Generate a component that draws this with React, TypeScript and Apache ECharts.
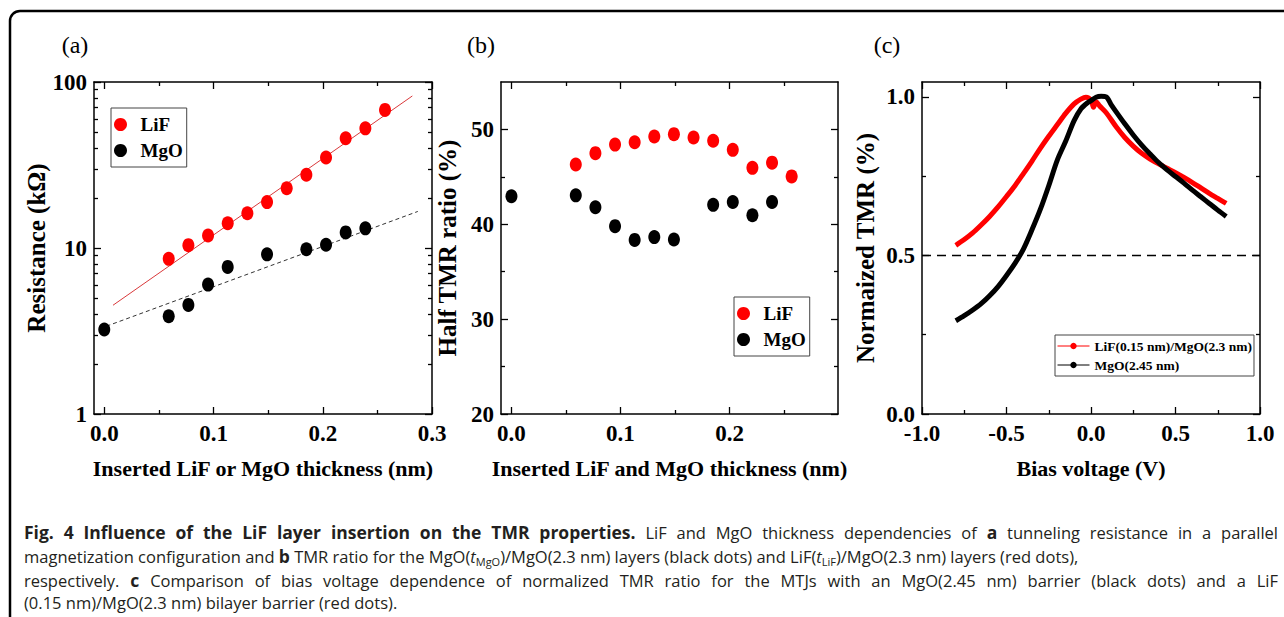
import React, { useEffect, useRef } from 'react';
import * as echarts from 'echarts';

// ---------------- data: panel (a) resistance vs thickness ----------------
const aLiFThickness = [0.059, 0.077, 0.095, 0.113, 0.131, 0.149, 0.167, 0.185, 0.203, 0.221, 0.239, 0.257];
const aLiFResistance = [8.6, 10.4, 11.9, 14.1, 16.2, 18.9, 22.9, 27.6, 35.1, 45.8, 52.6, 67.9];
const aMgOThickness = [0, 0.059, 0.077, 0.095, 0.113, 0.149, 0.185, 0.203, 0.221, 0.239];
const aMgOResistance = [3.23, 3.88, 4.54, 6.02, 7.69, 9.16, 9.82, 10.47, 12.42, 13.13];
const aLiFFitX = [0.008, 0.282];
const aLiFFitY = [4.52, 82.4];
const aMgOFitX = [0.002, 0.287];
const aMgOFitY = [3.38, 16.6];

// ---------------- data: panel (b) half TMR ratio ----------------
const bLiFThickness = [0.059, 0.077, 0.095, 0.113, 0.131, 0.149, 0.167, 0.185, 0.203, 0.221, 0.239, 0.257];
const bLiFTMR = [46.3, 47.5, 48.4, 48.65, 49.25, 49.5, 49.15, 48.8, 47.85, 45.95, 46.5, 45.05];
const bMgOThickness = [0, 0.059, 0.077, 0.095, 0.113, 0.131, 0.149, 0.185, 0.203, 0.221, 0.239];
const bMgOTMR = [42.95, 43.05, 41.8, 39.8, 38.35, 38.65, 38.4, 42.05, 42.35, 40.95, 42.35];

// ---------------- data: panel (c) normalized TMR vs bias ----------------
const cLiFBias = [-0.8, -0.75, -0.7, -0.65, -0.6, -0.55, -0.5, -0.45, -0.4, -0.35, -0.3, -0.25, -0.2, -0.15, -0.1, -0.06, -0.03, 0.0, 0.015, 0.03, 0.05, 0.09, 0.15, 0.2, 0.25, 0.3, 0.35, 0.4, 0.45, 0.5, 0.55, 0.6, 0.65, 0.7, 0.75, 0.8];
const cLiFNorm = [0.532, 0.55, 0.571, 0.596, 0.623, 0.653, 0.686, 0.72, 0.758, 0.797, 0.838, 0.876, 0.912, 0.948, 0.978, 0.993, 0.999, 0.99, 0.967, 0.985, 0.972, 0.95, 0.905, 0.872, 0.845, 0.822, 0.804, 0.789, 0.775, 0.761, 0.746, 0.73, 0.713, 0.696, 0.68, 0.664];
const cMgOBias = [-0.8, -0.75, -0.7, -0.65, -0.6, -0.55, -0.5, -0.45, -0.4, -0.35, -0.3, -0.25, -0.2, -0.15, -0.1, -0.06, -0.02, 0.0, 0.03, 0.06, 0.09, 0.12, 0.15, 0.2, 0.25, 0.3, 0.35, 0.4, 0.45, 0.5, 0.55, 0.6, 0.65, 0.7, 0.75, 0.8];
const cMgONorm = [0.294, 0.31, 0.328, 0.348, 0.373, 0.402, 0.437, 0.475, 0.52, 0.58, 0.645, 0.72, 0.8, 0.86, 0.925, 0.962, 0.982, 0.988, 0.999, 1.002, 1.0, 0.975, 0.952, 0.915, 0.88, 0.848, 0.82, 0.793, 0.77, 0.749, 0.728, 0.706, 0.685, 0.664, 0.643, 0.623];
const cHalfLevel = 0.5;

// ---------------- tick values ----------------
const thicknessTicks = [0, 0.1, 0.2, 0.3];
const thicknessMinor = [0.05, 0.15, 0.25];
const resistanceMinor = [2, 3, 4, 5, 6, 7, 8, 9, 20, 30, 40, 50, 60, 70, 80, 90];
const tmrTicks = [20, 30, 40, 50];
const tmrMinor = [25, 35, 45];
const biasTicks = [-1, -0.5, 0, 0.5, 1];
const biasMinor = [-0.75, -0.25, 0.25, 0.75];
const normTicks = [0, 0.5, 1];
const normMinor = [0.25, 0.75];

// ---------------- caption text ----------------
const captionLines: { justify: boolean; segs: [string, string][] }[] = [
  {
    justify: true,
    segs: [
      ['b', 'Fig. 4 Influence of the LiF layer insertion on the TMR properties.'],
      ['n', ' LiF and MgO thickness dependencies of '],
      ['b', 'a'],
      ['n', ' tunneling resistance in a parallel'],
    ],
  },
  {
    justify: false,
    segs: [
      ['n', 'magnetization configuration and '],
      ['b', 'b'],
      ['n', ' TMR ratio for the MgO('],
      ['i', 't'],
      ['s', 'MgO'],
      ['n', ')/MgO(2.3 nm) layers (black dots) and LiF('],
      ['i', 't'],
      ['s', 'LiF'],
      ['n', ')/MgO(2.3 nm) layers (red dots),'],
    ],
  },
  {
    justify: true,
    segs: [
      ['n', 'respectively. '],
      ['b', 'c'],
      ['n', ' Comparison of bias voltage dependence of normalized TMR ratio for the MTJs with an MgO(2.45 nm) barrier (black dots) and a LiF'],
    ],
  },
  {
    justify: false,
    segs: [['n', '(0.15 nm)/MgO(2.3 nm) bilayer barrier (red dots).']],
  },
];
const captionTops = [523, 547, 571, 594];

const SERIF = '"Liberation Serif", "Times New Roman", serif';
const SANS_NAME = 'Open Sans';
const SANS = '"Open Sans", "Noto Sans", sans-serif';
const CAP_N = 16.5;
const CAP_B = 17.5;
const CAP_S = 11;
const CAP_LEFT = 24;
const CAP_RIGHT = 1278;

const tickFont = { fontFamily: SERIF, fontWeight: 'bold', fontSize: 23, color: '#000' };
const titleFont = { fontFamily: SERIF, fontWeight: 'bold', fontSize: 22, color: '#000' };
const yTitleFont = { fontFamily: SERIF, fontWeight: 'bold', fontSize: 25, color: '#000' };

const zip = (xs: number[], ys: number[]) => xs.map((x, i) => [x, ys[i]]);

function makeAxis(o: any) {
  const a: any = {
    type: o.type || 'value',
    gridIndex: o.grid,
    position: o.pos,
    min: o.min,
    max: o.max,
    axisLine: { show: !!o.line, onZero: false, lineStyle: { color: '#000', width: 1.5 } },
    axisTick: { show: true, inside: true, length: o.len, lineStyle: { color: '#000', width: 1.3 } },
    axisLabel: o.label
      ? { show: true, formatter: o.fmt, margin: o.labelMargin ?? 8, ...tickFont }
      : { show: false },
    splitLine: { show: false },
    minorTick: { show: false },
    silent: true,
  };
  if (o.type === 'log') a.logBase = 10;
  if (o.ticks) {
    a.axisTick.customValues = o.ticks;
    if (o.label) a.axisLabel.customValues = o.ticks;
  }
  if (o.name) {
    a.name = o.name;
    a.nameLocation = 'middle';
    a.nameGap = o.nameGap;
    a.nameTextStyle = o.nameFont || titleFont;
  }
  return a;
}

const grids = [
  { left: 94, top: 82, width: 338, height: 332 },
  { left: 501, top: 82, width: 337, height: 332 },
  { left: 922, top: 82, width: 338, height: 332 },
];

const f1 = (v: number) => v.toFixed(1);

function panelAxes(p: number, cfg: any) {
  const gMain = 2 * p;
  const gOver = 2 * p + 1; // overlay grid that carries the minor ticks
  const x = [
    makeAxis({ grid: gMain, pos: 'bottom', min: cfg.xmin, max: cfg.xmax, ticks: cfg.xTicks, len: 7, line: true, label: true, fmt: cfg.xfmt, name: cfg.xName, nameGap: 43 }),
    makeAxis({ grid: gMain, pos: 'top', min: cfg.xmin, max: cfg.xmax, ticks: cfg.xTicks, len: 7, line: true }),
    makeAxis({ grid: gOver, pos: 'bottom', min: cfg.xmin, max: cfg.xmax, ticks: cfg.xMinor, len: 4 }),
    makeAxis({ grid: gOver, pos: 'top', min: cfg.xmin, max: cfg.xmax, ticks: cfg.xMinor, len: 4 }),
  ];
  const y = [
    makeAxis({ grid: gMain, pos: 'left', type: cfg.ytype, min: cfg.ymin, max: cfg.ymax, ticks: cfg.yTicks, len: 7, line: true, label: true, fmt: cfg.yfmt, labelMargin: 7, name: cfg.yName, nameGap: cfg.yGap, nameFont: yTitleFont }),
    makeAxis({ grid: gMain, pos: 'right', type: cfg.ytype, min: cfg.ymin, max: cfg.ymax, ticks: cfg.yTicks, len: 7, line: true }),
    makeAxis({ grid: gOver, pos: 'left', type: cfg.ytype, min: cfg.ymin, max: cfg.ymax, ticks: cfg.yMinor, len: 4 }),
    makeAxis({ grid: gOver, pos: 'right', type: cfg.ytype, min: cfg.ymin, max: cfg.ymax, ticks: cfg.yMinor, len: 4 }),
  ];
  return { x, y };
}

const pa = panelAxes(0, {
  xmin: -0.0094, xmax: 0.3, xTicks: thicknessTicks, xMinor: thicknessMinor, xfmt: f1,
  xName: 'Inserted LiF or MgO thickness (nm)',
  ytype: 'log', ymin: 1, ymax: 100, yTicks: undefined, yMinor: resistanceMinor,
  yName: 'Resistance (kΩ)', yGap: 43,
});
const pb = panelAxes(1, {
  xmin: -0.0096, xmax: 0.2995, xTicks: thicknessTicks, xMinor: thicknessMinor, xfmt: f1,
  xName: 'Inserted LiF and MgO thickness (nm)',
  ytype: 'value', ymin: 20, ymax: 55, yTicks: tmrTicks, yMinor: tmrMinor, yfmt: (v: number) => String(v),
  yName: 'Half TMR ratio (%)', yGap: 41,
});
const pc = panelAxes(2, {
  xmin: -1, xmax: 1, xTicks: biasTicks, xMinor: biasMinor, xfmt: f1,
  xName: 'Bias voltage (V)',
  ytype: 'value', ymin: 0, ymax: 1.047, yTicks: normTicks, yMinor: normMinor, yfmt: f1,
  yName: 'Normaized TMR (%)', yGap: 44,
});

const legendText = { fontFamily: SERIF, fontWeight: 'bold', fontSize: 19, color: '#000' };

function capFont(st: string) {
  if (st === 'b') return `bold ${CAP_B}px "${SANS_NAME}"`;
  if (st === 'i') return `italic ${CAP_N}px "${SANS_NAME}"`;
  if (st === 's') return `${CAP_S}px "${SANS_NAME}"`;
  return `${CAP_N}px "${SANS_NAME}"`;
}

function buildCaption() {
  const canvas = document.createElement('canvas');
  const ctx = canvas.getContext('2d')!;
  const measure = (st: string, t: string) => {
    ctx.font = capFont(st);
    return ctx.measureText(t).width;
  };
  const baseRich: any = {
    n: { fontFamily: SANS, fontSize: CAP_N, lineHeight: 22, color: '#231f20' },
    b: { fontFamily: SANS, fontSize: CAP_B, fontWeight: 'bold', lineHeight: 22, color: '#000' },
    i: { fontFamily: SANS, fontSize: CAP_N, fontStyle: 'italic', lineHeight: 22, color: '#231f20' },
    s: { fontFamily: SANS, fontSize: CAP_S, lineHeight: 11, verticalAlign: 'bottom', color: '#231f20' },
  };
  return captionLines.map((line, li) => {
    const rich: any = { ...baseRich };
    let text = '';
    if (!line.justify) {
      line.segs.forEach(([st, t]) => { text += `{${st}|${t}}`; });
    } else {
      // split into words and spread the spare width over the gaps (justified line)
      const tokens: ({ st: string; t: string } | null)[] = [];
      line.segs.forEach(([st, t]) => {
        t.split(' ').forEach((w, k) => {
          if (k > 0) tokens.push(null);
          if (w) tokens.push({ st, t: w });
        });
      });
      let wordW = 0;
      let gaps = 0;
      tokens.forEach((tk) => { if (tk) wordW += measure(tk.st, tk.t); else gaps += 1; });
      const gapW = Math.max(measure('n', ' '), (CAP_RIGHT - CAP_LEFT - wordW) / Math.max(gaps, 1));
      const key = `w${li}`;
      rich[key] = { fontFamily: SANS, fontSize: CAP_N, lineHeight: 22, width: gapW };
      tokens.forEach((tk) => { text += tk ? `{${tk.st}|${tk.t}}` : `{${key}| }`; });
    }
    return {
      type: 'text', left: CAP_LEFT, top: captionTops[li], silent: true,
      style: { text, rich, fontFamily: SANS, fontSize: CAP_N, fill: '#231f20' },
    };
  });
}

export default function App() {
  const ref = useRef<HTMLDivElement>(null);
  useEffect(() => {
    if (!ref.current) return;
    const chart = echarts.init(ref.current, undefined, { renderer: 'svg' });
    const dot = { symbol: 'circle', symbolSize: [12, 14], z: 3 };
    const option: any = {
      animation: false,
      backgroundColor: '#fff',
      grid: [grids[0], grids[0], grids[1], grids[1], grids[2], grids[2]].map((g) => ({ ...g, containLabel: false })),
      xAxis: [...pa.x, ...pb.x, ...pc.x],
      yAxis: [...pa.y, ...pb.y, ...pc.y],
      legend: [
        {
          left: 111, top: 108, orient: 'vertical', data: ['LiF', 'MgO'], icon: 'circle',
          itemWidth: 30, itemHeight: 13, itemGap: 7, padding: [7, 4, 7, 3],
          borderColor: '#444', borderWidth: 1, textStyle: legendText, selectedMode: false,
        },
        {
          left: 734, top: 297, orient: 'vertical', data: ['LiF', 'MgO'], icon: 'circle',
          itemWidth: 30, itemHeight: 13, itemGap: 7, padding: [7, 4, 7, 3],
          borderColor: '#444', borderWidth: 1, textStyle: legendText, selectedMode: false,
        },
        {
          left: 1055, top: 335, orient: 'vertical',
          data: ['LiF(0.15 nm)/MgO(2.3 nm)', 'MgO(2.45 nm)'],
          itemWidth: 32, itemHeight: 8, itemGap: 5, padding: [4, 2, 4, 2],
          borderColor: '#444', borderWidth: 1, selectedMode: false,
          lineStyle: { width: 1 },
          textStyle: { fontFamily: SERIF, fontWeight: 'bold', fontSize: 13.5, color: '#000' },
        },
      ],
      series: [
        { type: 'line', name: 'LiF fit', xAxisIndex: 0, yAxisIndex: 0, data: zip(aLiFFitX, aLiFFitY), symbol: 'none', lineStyle: { color: '#d9393b', width: 1 }, z: 1, silent: true },
        { type: 'line', name: 'MgO fit', xAxisIndex: 0, yAxisIndex: 0, data: zip(aMgOFitX, aMgOFitY), symbol: 'none', lineStyle: { color: '#333', width: 1, type: [4, 3] }, z: 1, silent: true },
        { type: 'scatter', name: 'LiF', xAxisIndex: 0, yAxisIndex: 0, data: zip(aLiFThickness, aLiFResistance), ...dot, itemStyle: { color: '#ff0000', opacity: 1 } },
        { type: 'scatter', name: 'MgO', xAxisIndex: 0, yAxisIndex: 0, data: zip(aMgOThickness, aMgOResistance), ...dot, itemStyle: { color: '#000', opacity: 1 } },
        { type: 'scatter', name: 'LiF', xAxisIndex: 4, yAxisIndex: 4, data: zip(bLiFThickness, bLiFTMR), ...dot, itemStyle: { color: '#ff0000', opacity: 1 } },
        { type: 'scatter', name: 'MgO', xAxisIndex: 4, yAxisIndex: 4, data: zip(bMgOThickness, bMgOTMR), ...dot, itemStyle: { color: '#000', opacity: 1 } },
        {
          type: 'line', name: 'LiF(0.15 nm)/MgO(2.3 nm)', xAxisIndex: 8, yAxisIndex: 8, data: zip(cLiFBias, cLiFNorm),
          showSymbol: false, symbol: 'circle', symbolSize: 6, smooth: 0.3, color: '#ff0000',
          lineStyle: { color: '#ff0000', width: 5 }, itemStyle: { color: '#ff0000' }, z: 2,
        },
        {
          type: 'line', name: 'MgO(2.45 nm)', xAxisIndex: 8, yAxisIndex: 8, data: zip(cMgOBias, cMgONorm),
          showSymbol: false, symbol: 'circle', symbolSize: 6, smooth: 0.3, color: '#000',
          lineStyle: { color: '#000', width: 5 }, itemStyle: { color: '#000' }, z: 3,
          markLine: {
            silent: true, symbol: ['none', 'none'], label: { show: false },
            lineStyle: { color: '#000', width: 1.3, type: [9, 6] },
            data: [{ yAxis: cHalfLevel }],
          },
        },
      ],
      graphic: [
        { type: 'rect', shape: { x: 10, y: 11, width: 1300, height: 640, r: 10 }, style: { fill: 'none', stroke: '#000', lineWidth: 2.5 }, silent: true },
        { type: 'text', x: 75, y: 45, style: { text: '(a)', align: 'center', verticalAlign: 'middle', fontFamily: SERIF, fontSize: 24, fill: '#000' } },
        { type: 'text', x: 481, y: 45, style: { text: '(b)', align: 'center', verticalAlign: 'middle', fontFamily: SERIF, fontSize: 24, fill: '#000' } },
        { type: 'text', x: 887, y: 45, style: { text: '(c)', align: 'center', verticalAlign: 'middle', fontFamily: SERIF, fontSize: 24, fill: '#000' } },
        ...buildCaption(),
      ],
    };
    chart.setOption(option);
    return () => chart.dispose();
  }, []);
  return (
    <div
      ref={ref}
      style={{ position: 'fixed', left: 0, top: 0, width: 1284, height: 617, background: '#fff' }}
    />
  );
}
